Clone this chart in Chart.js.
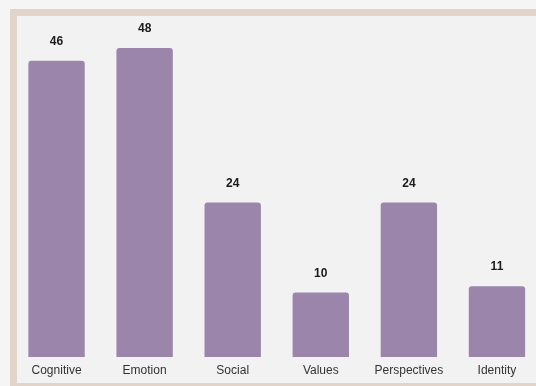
<!DOCTYPE html>
<html>
<head>
<meta charset="utf-8">
<script src="https://cdn.jsdelivr.net/npm/chart.js@4"></script>
<style>
    html, body {
        margin: 0;
        padding: 0;
        width: 536px;
        height: 386px;
        overflow: hidden;
        background: #f5f5f5;
    }
    .panel {
        position: absolute;
        left: 10px;
        top: 9px;
        width: 600px;
        height: 367px;
        border: 7px solid #e0d4cb;
        background: #f2f2f2;
    }
    #chart-wrap {
        position: absolute;
        left: 0;
        top: 0;
        width: 541px;
        height: 386px;
    }
</style>
</head>
<body>
<div class="panel"></div>
<div id="chart-wrap"><canvas id="themes"></canvas></div>
<script>
// 主题类别与数量
const categories = ['Cognitive', 'Emotion', 'Social', 'Values', 'Perspectives', 'Identity'];
const counts = [46, 48, 24, 10, 24, 11];

// 在柱子上方绘制数值
const valueLabels = {
    id: 'valueLabels',
    afterDatasetsDraw(chart) {
        const ctx = chart.ctx;
        const meta = chart.getDatasetMeta(0);
        ctx.save();
        ctx.font = 'bold 12px "Liberation Sans", Arial, sans-serif';
        ctx.fillStyle = '#1a1a1a';
        ctx.textAlign = 'center';
        ctx.textBaseline = 'middle';
        meta.data.forEach((bar, i) => {
            ctx.fillText(String(counts[i]), bar.x, bar.y - 19);
        });
        ctx.restore();
    }
};

const ctx = document.getElementById('themes').getContext('2d');
new Chart(ctx, {
    type: 'bar',
    data: {
        labels: categories,
        datasets: [{
            data: counts,
            backgroundColor: '#9b85ab',
            borderRadius: 3,
            borderSkipped: 'bottom',
            categoryPercentage: 0.8,
            barPercentage: 0.8
        }]
    },
    options: {
        responsive: true,
        maintainAspectRatio: false,
        animation: false,
        layout: {
            padding: { left: 12.5, right: 0, top: 35, bottom: 2.6 }
        },
        plugins: {
            legend: { display: false },
            tooltip: { enabled: false }
        },
        scales: {
            x: {
                grid: { display: false, drawTicks: false },
                border: { display: false },
                ticks: {
                    color: '#333',
                    padding: 6,
                    font: { family: '"Liberation Sans", Arial, sans-serif', size: 12 }
                }
            },
            y: {
                display: false,
                min: 0,
                max: 50
            }
        }
    },
    plugins: [valueLabels]
});
</script>
</body>
</html>
